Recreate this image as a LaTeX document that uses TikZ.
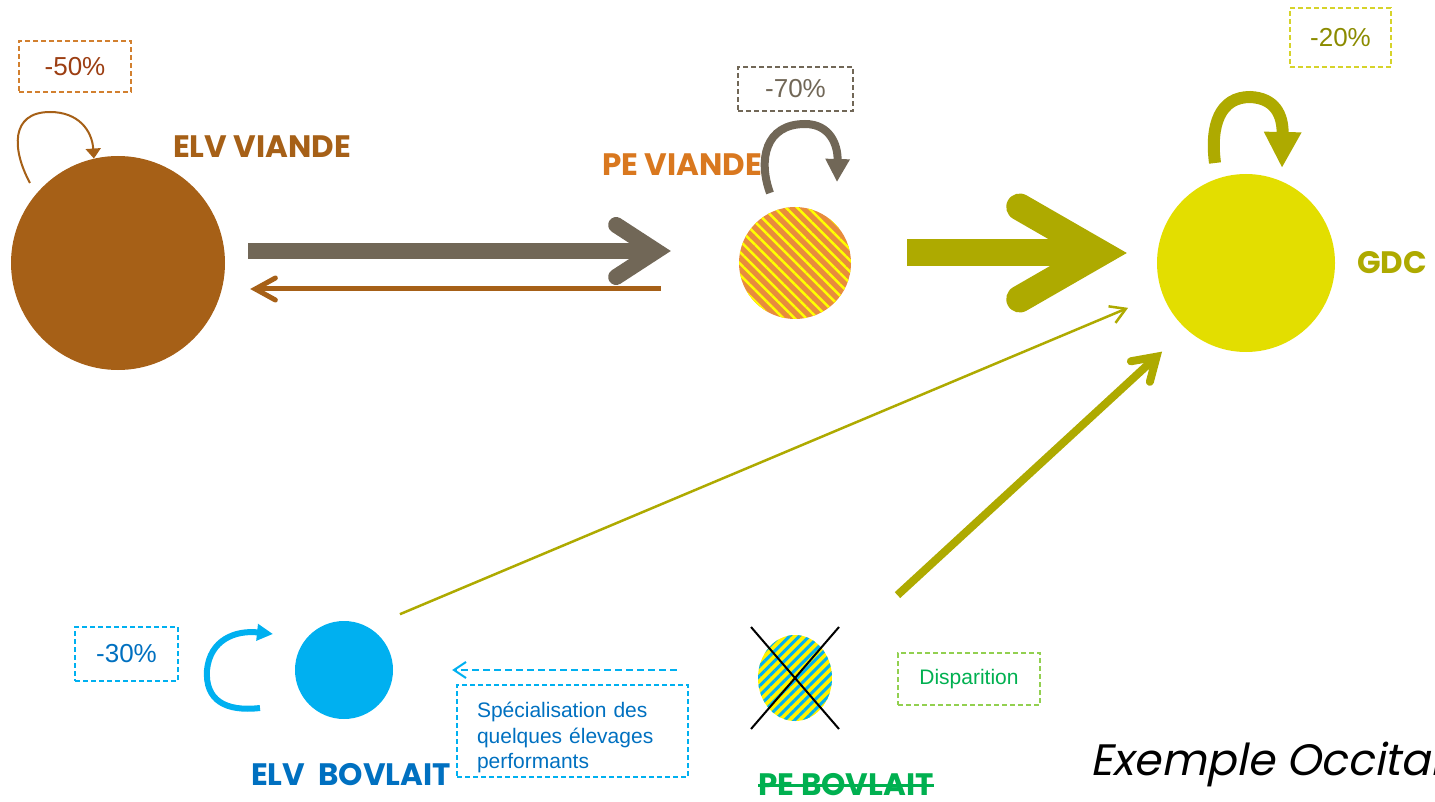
\documentclass[tikz,border=0pt]{standalone}
\usepackage{fontspec}
\setmainfont{Liberation Sans}
\newfontfamily\labelfont{Poppins}
\newfontfamily\occfont[FakeSlant=0.2]{Poppins}
\usetikzlibrary{arrows.meta}
\usetikzlibrary{patterns.meta}
\usetikzlibrary{shapes.geometric}
\definecolor{elvbrown}{RGB}{166,96,23}
\definecolor{boxbrown}{RGB}{210,128,47}
\definecolor{txtbrown}{RGB}{156,62,18}
\definecolor{taupe}{RGB}{113,103,87}
\definecolor{peorange}{RGB}{217,120,31}
\definecolor{stripeorange}{RGB}{232,140,60}
\definecolor{olive}{RGB}{174,170,0}
\definecolor{gdcyellow}{RGB}{227,222,0}
\definecolor{boxolive}{RGB}{214,211,42}
\definecolor{txtolive}{RGB}{139,139,0}
\definecolor{lightblue}{RGB}{0,176,240}
\definecolor{darkblue}{RGB}{0,112,192}
\definecolor{dispgreen}{RGB}{0,176,80}
\definecolor{boxgreen}{RGB}{146,208,80}
\tikzset{
	disc/.style={circle, inner sep=0pt, draw=none},
	bigname/.style={font=\labelfont\bfseries\fontsize{31}{36}\selectfont, inner sep=0pt},
	ratebox/.style={draw, line width=1.5pt, dash pattern=on 5pt off 3pt,
		font=\fontsize{26}{30}\selectfont},
	notebox/.style={draw, line width=1.5pt, dash pattern=on 5pt off 3pt,
		font=\fontsize{21}{25.5}\selectfont}
}

\begin{document}
\begin{tikzpicture}[x=1pt, y=-1pt]

\useasboundingbox (0,0) rectangle (1435,802);
\clip (0,0) rectangle (1435,802);

\node[disc, fill=elvbrown, minimum size=214] (elvv) at (118,263) {};
\node[disc, fill=stripeorange, minimum size=112,
	postaction={pattern={Lines[angle=-45, distance=8pt, line width=2.5pt]}, pattern color=yellow}] (pev) at (795,263) {};
\node[disc, fill=gdcyellow, minimum size=178] (gdc) at (1246,263) {};
\node[disc, fill=lightblue, minimum size=98] (elvb) at (344,670) {};
\node[ellipse, inner sep=0pt, fill=yellow, minimum width=74, minimum height=86,
	postaction={pattern={Lines[angle=45, distance=7pt, line width=3pt]}, pattern color=lightblue}] (pebo) at (795,678) {};

\node[bigname, text=elvbrown] (elvvname) at (262,147) {ELV VIANDE};
\node[bigname, text=peorange] (pevname) at (682,165) {PE VIANDE};
\node[bigname, text=olive] (gdcname) at (1392,263) {GDC};
\node[bigname, text=darkblue] (elvbname) at (351,775) {ELV\ \ BOVLAIT};
\node[bigname, text=dispgreen] (peboname) at (846,785) {PE BOVLAIT};

\node[ratebox, draw=boxbrown, text=txtbrown, minimum width=112, minimum height=51] (rate50) at (75,66.5) {-50\%};
\node[ratebox, draw=taupe, text=taupe, minimum width=115, minimum height=44] (rate70) at (795.5,89) {-70\%};
\node[ratebox, draw=boxolive, text=txtolive, minimum width=101, minimum height=59] (rate20) at (1340.5,37.5) {-20\%};
\node[ratebox, draw=lightblue, text=darkblue, minimum width=103, minimum height=54] (rate30) at (126.5,654) {-30\%};
\node[notebox, draw=lightblue, text=darkblue, minimum width=231, minimum height=92,
	align=left, text width=191] (spec) at (572.5,731) {\rule{0pt}{29pt}Spécialisation des\\quelques élevages\\performants};
\node[notebox, draw=boxgreen, text=dispgreen, minimum width=142, minimum height=52] (disp) at (969,679) {Disparition};

\node[anchor=base west, inner sep=0pt, font=\occfont\fontsize{44}{50}\selectfont] (occ) at (1090,775) {Exemple Occitan};

\coordinate (elvvloop) at (30,183);
\coordinate (pevloopa) at (770,193);
\coordinate (pevloopb) at (837,182);
\coordinate (gdcloopa) at (1215,163);
\coordinate (gdcloopb) at (1282,168);
\coordinate (elvbloopa) at (260,708);
\coordinate (elvbloopb) at (273,634);

\draw[taupe, line width=16pt, shorten <=23pt, shorten >=68pt,
	-{Straight Barb[line cap=round, line join=miter, length=40pt, width=52pt]}]
	([yshift=12pt]elvv.east) -- ([yshift=12pt]pev.west);
\draw[elvbrown, line width=5pt, shorten <=78pt, shorten >=25pt,
	-{Straight Barb[line cap=round, length=20pt, width=22pt]}]
	([yshift=-26pt]pev.west) -- ([yshift=-26pt]elvv.east);
\draw[olive, line width=27pt, shorten <=56pt, shorten >=30pt,
	-{Straight Barb[line cap=round, line join=miter, length=80pt, width=92pt]}]
	([yshift=10pt]pev.east) -- ([yshift=10pt]gdc.west);
\draw[olive, line width=2.5pt, shorten <=34pt, shorten >=37pt,
	-{Straight Barb[length=15pt, width=18pt]}] (elvb.60) -- (gdc.200);
\draw[olive, line width=8pt, shorten <=94pt, shorten >=33pt,
	-{Straight Barb[line cap=round, length=22pt, width=28pt]}] (pebo.30) -- (gdc.228);
\draw[lightblue, line width=2pt, dash pattern=on 7pt off 4pt, shorten <=81pt, shorten >=59pt,
	-{Straight Barb[length=12pt, width=16pt]}] (elvb.east -| pebo.west) -- (elvb.east);

\draw[elvbrown, line width=2pt, -{Triangle[length=10pt, width=15pt]}]
	(elvvloop) .. controls (12,150) and (10,112) .. (50,112) .. controls (78,112) and (92,130) .. (elvv.103);
\draw[taupe, line width=8pt, -{Triangle[length=23pt, width=23pt]}]
	(pevloopa) .. controls (758,160) and (765,124) .. (805,124) .. controls (830,124) and (838,145) .. (pevloopb);
\draw[olive, line width=12pt, -{Triangle[length=36pt, width=35pt]}]
	(gdcloopa) .. controls (1210,125) and (1220,97) .. (1250,97) .. controls (1275,98) and (1283,115) .. (gdcloopb);
\draw[lightblue, line width=6pt, -{Triangle[length=16pt, width=16pt]}]
	(elvbloopa) .. controls (225,712) and (205,700) .. (207,670) .. controls (210,640) and (235,630) .. (elvbloopb);

\draw[black, line width=2pt] ([shift={(-44,-51)}]pebo.center) -- ([shift={(44,51)}]pebo.center);
\draw[black, line width=2pt] ([shift={(44,-51)}]pebo.center) -- ([shift={(-44,51)}]pebo.center);
\draw[dispgreen, line width=3pt] (peboname.west) -- (peboname.east);
\end{tikzpicture}
\end{document}
